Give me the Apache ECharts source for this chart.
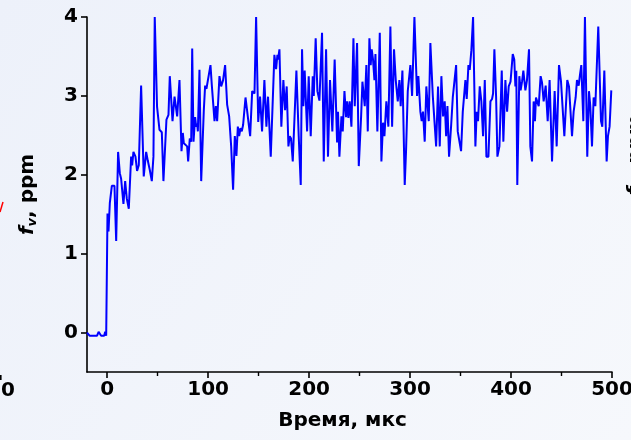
<!DOCTYPE html>
<html>
<head>
<meta charset="utf-8">
<script src="https://cdn.jsdelivr.net/npm/echarts@6/dist/echarts.min.js"></script>
<style>
  html, body { margin: 0; padding: 0; }
  #chart { width: 631px; height: 440px; }
</style>
</head>
<body>
<div id="chart"></div>
<script>
// Soot volume fraction f_v (ppm) versus time (µs)
const timeUs = [
  -20, -17.5, -10, -8.5, -7.5, -6, -3, -2, -1, -0.3,
  0.3, 1.3, 2.6, 4.6, 7.2, 8.9, 10.8, 12.5, 13.8, 16.1, 17.8, 19.4, 21.4, 23.7, 24.7, 26.0, 28.0, 29.6, 31.3, 33.6,
  36.2, 38.6, 40.2, 42.2, 44.2, 45.8, 47.1, 49.4, 51.8, 54.1, 55.7, 58.7, 60.7, 62.0, 64.7, 66.7, 68.0, 69.3, 71.6, 73.6,
  74.9, 75.9, 77.6, 79.2, 80.2, 81.8, 83.2, 84.2, 85.5, 87.1, 88.1, 89.1, 89.8, 91.4, 93.1, 95.7, 97.0, 98.3, 99.7, 100.7,
  102.3, 103.6, 104.9, 106.3, 107.6, 108.9, 111.2, 112.9, 114.8, 116.8, 118.8, 120.8, 122.8, 124.7, 126.4, 128.0, 129.4, 130.7, 132.0, 133.3,
  134.6, 137.0, 138.9, 141.6, 143.6, 145.2, 145.9, 147.5, 149.6, 151.4, 153.4, 155.7, 157.7, 159.3, 162.0, 165.6, 167.3, 168.6, 169.2, 170.6,
  172.5, 174.5, 176.2, 177.8, 179.5, 180.8, 182.1, 183.8, 187.4, 189.7, 191.7, 193.0, 194.3, 195.6, 198.0, 199.6, 201.6, 203.6, 204.6, 206.5,
  208.2, 210.2, 212.8, 214.5, 216.8, 218.7, 220.7, 223.0, 225.3, 227.7, 228.6, 230.0, 232.0, 233.3, 235.0, 236.6, 237.6, 238.9, 240.2, 241.9,
  243.9, 245.2, 247.5, 249.2, 251.5, 252.8, 254.1, 255.1, 256.7, 258.1, 259.7, 261.0, 262.0, 263.3, 264.7, 265.7, 267.6, 270.0, 271.6, 273.2,
  274.6, 276.5, 278.5, 280.5, 282.2, 284.1, 285.8, 287.8, 289.4, 290.7, 292.4, 294.7, 296.0, 297.7, 300.3, 302.0, 304.3, 305.9, 306.9, 308.2,
  310.2, 311.5, 312.8, 314.5, 316.1, 318.5, 320.1, 322.5, 324.1, 325.8, 327.7, 329.4, 331.0, 332.7, 334.3, 335.7, 337.0, 338.6, 340.6, 342.3,
  343.6, 345.6, 347.2, 348.9, 350.5, 352.2, 354.8, 356.1, 357.8, 359.1, 360.7, 362.4, 364.7, 366.0, 367.3, 369.0, 370.6, 372.3, 374.0, 375.6,
  377.6, 379.6, 381.2, 382.2, 383.5, 385.2, 386.5, 388.5, 390.8, 392.4, 394.4, 396.1, 397.7, 399.5, 401.7, 403.2, 404.3, 405.2, 406.2, 408.2,
  409.5, 410.9, 412.2, 414.2, 415.8, 417.8, 419.1, 420.8, 422.4, 423.7, 424.7, 426.4, 427.4, 429.3, 430.7, 432.3, 434.3, 436.3, 438.2, 440.6,
  443.2, 445.2, 447.5, 449.5, 452.8, 454.1, 455.7, 457.4, 458.7, 460.4, 462.0, 464.0, 465.3, 467.0, 468.3, 469.6, 471.6, 473.2, 475.5, 477.2,
  478.5, 480.2, 481.8, 483.5, 484.4, 486.4, 489.1, 490.4, 492.4, 494.7, 496.0, 497.6, 499.3
];

const fvPpm = [
  0.00, -0.04, -0.04, 0.01, 0.01, -0.04, -0.04, 0.01, -0.04, -0.04,
  1.51, 1.28, 1.64, 1.86, 1.86, 1.16, 2.29, 2.02, 1.95, 1.63, 1.92, 1.70, 1.57, 2.23, 2.12, 2.29, 2.23, 2.05, 2.12, 3.13,
  1.98, 2.29, 2.18, 2.06, 1.92, 2.23, 4.00, 2.86, 2.57, 2.54, 1.92, 2.70, 2.76, 3.25, 2.68, 2.99, 2.98, 2.74, 3.20, 2.30,
  2.53, 2.40, 2.41, 2.36, 2.17, 2.46, 2.42, 3.60, 2.42, 2.73, 2.61, 2.65, 2.55, 3.33, 1.92, 2.82, 3.13, 3.09, 3.11, 3.27,
  3.39, 3.14, 3.12, 2.68, 2.87, 2.68, 3.25, 3.12, 3.20, 3.39, 2.89, 2.74, 2.36, 1.81, 2.49, 2.24, 2.61, 2.49, 2.59, 2.55,
  2.63, 2.98, 2.98, 2.49, 3.06, 3.08, 3.03, 4.00, 2.67, 2.99, 2.55, 3.20, 2.61, 2.99, 2.23, 3.52, 3.34, 3.52, 3.46, 3.59,
  2.61, 3.20, 2.82, 3.12, 2.36, 2.49, 2.46, 2.17, 3.32, 2.49, 1.87, 3.59, 2.87, 3.32, 2.55, 3.25, 2.49, 3.25, 3.00, 3.73,
  3.06, 2.94, 3.80, 2.17, 3.59, 2.23, 3.20, 2.55, 3.46, 2.41, 2.80, 2.23, 2.74, 2.55, 3.06, 2.73, 2.93, 2.72, 2.93, 2.61,
  3.73, 2.87, 3.67, 2.11, 2.74, 3.18, 3.20, 2.87, 3.39, 2.55, 3.73, 3.39, 3.59, 3.46, 3.20, 3.53, 2.55, 3.80, 2.17, 2.66,
  2.49, 2.93, 2.61, 3.88, 2.61, 3.59, 3.20, 2.93, 3.20, 2.87, 3.32, 1.87, 2.30, 3.06, 3.39, 3.00, 4.00, 4.00, 3.00, 3.25,
  2.80, 2.68, 2.80, 2.42, 3.12, 2.68, 3.67, 3.00, 2.98, 2.36, 3.12, 2.36, 3.25, 2.74, 2.93, 2.49, 2.87, 2.23, 2.61, 2.98,
  2.98, 3.39, 2.55, 2.53, 2.30, 2.80, 3.20, 2.96, 3.39, 3.33, 3.58, 4.00, 2.36, 2.80, 2.68, 3.12, 2.93, 2.49, 3.20, 2.23,
  2.23, 2.93, 2.96, 3.03, 3.59, 2.99, 2.23, 2.36, 3.32, 2.42, 3.20, 2.80, 3.12, 3.18, 3.53, 3.46, 3.12, 3.32, 1.87, 3.25,
  3.07, 3.18, 3.32, 3.07, 3.20, 3.59, 2.36, 2.17, 2.93, 2.68, 2.98, 2.98, 2.87, 3.25, 3.17, 2.93, 3.13, 2.68, 3.20, 2.17,
  3.06, 2.36, 3.39, 3.18, 2.49, 2.49, 3.20, 3.12, 3.12, 2.49, 2.80, 2.98, 3.20, 3.13, 3.27, 3.39, 2.68, 4.00, 2.23, 3.06,
  2.87, 2.36, 2.98, 2.87, 2.87, 3.88, 2.68, 2.61, 3.32, 2.17, 2.49, 2.61, 3.07
];

// Axis ticks
const xTicks = [0, 100, 200, 300, 400, 500];
const xMinorTicks = [50, 150, 250, 350, 450];
const yTicks = [0, 1, 2, 3, 4];

const xName = 'Время, мкс';

const FONT = 'DejaVu Sans';
const seriesData = timeUs.map((t, i) => [t, fvPpm[i]]);

const chart = echarts.init(document.getElementById('chart'), null, { renderer: 'canvas' });

const labelStyle = { color: '#000', fontFamily: FONT, fontWeight: 'bold', fontSize: 20 };
const axisLine = { show: true, onZero: false, lineStyle: { color: '#000', width: 1.6 } };

chart.setOption({
  animation: false,
  backgroundColor: new echarts.graphic.LinearGradient(0, 0, 1, 1, [
    { offset: 0, color: '#edf1fa' },
    { offset: 1, color: '#f6f8fc' }
  ]),
  grid: { left: 87, right: 19, top: 17, bottom: 68, outerBoundsMode: 'none' },
  xAxis: [
    {
      type: 'value', min: -20, max: 500,
      axisLine: axisLine,
      splitLine: { show: false },
      axisTick: { show: true, inside: false, length: 6, customValues: xTicks, lineStyle: { color: '#000', width: 1.6 } },
      axisLabel: { customValues: xTicks, margin: 8, ...labelStyle },
      name: xName, nameLocation: 'middle', nameGap: 39,
      nameTextStyle: { ...labelStyle, fontSize: 20, padding: [0, 14, 0, 0] }
    },
    {
      type: 'value', min: -20, max: 500, position: 'bottom',
      axisLine: { show: false, onZero: false },
      splitLine: { show: false },
      axisTick: { show: true, inside: false, length: 4, customValues: xMinorTicks, lineStyle: { color: '#000', width: 1.4 } },
      axisLabel: { show: false }
    }
  ],
  yAxis: {
    type: 'value', min: -0.5, max: 4,
    axisLine: axisLine,
    splitLine: { show: false },
    axisTick: { show: true, inside: false, length: 6, customValues: yTicks, lineStyle: { color: '#000', width: 1.6 } },
    axisLabel: { customValues: yTicks, margin: 9, ...labelStyle },
    name: '{f|f}{v|v}{n|, ppm}',
    nameLocation: 'middle', nameRotate: 90, nameGap: 48,
    nameTextStyle: {
      rich: {
        f: { fontFamily: FONT, fontWeight: 'bold', fontStyle: 'italic', fontSize: 20, color: '#000' },
        v: { fontFamily: FONT, fontWeight: 'bold', fontStyle: 'italic', fontSize: 13, color: '#000', padding: [10, 0, 0, 0] },
        n: { fontFamily: FONT, fontWeight: 'bold', fontSize: 20, color: '#000' }
      }
    }
  },
  series: [{
    type: 'line',
    xAxisIndex: 0,
    data: seriesData,
    showSymbol: false,
    clip: true,
    lineStyle: { color: '#0000ff', width: 2 },
    itemStyle: { color: '#0000ff' }
  }],
  graphic: [
    // fragments of the neighbouring panels at the edges
    { type: 'text', left: 1, top: 381, style: { text: '0', fill: '#000', font: 'bold 20px "DejaVu Sans"' } },
    { type: 'rect', shape: { x: 0, y: 375, width: 1.6, height: 5 }, style: { fill: '#000' } },
    { type: 'line', shape: { x1: 0, y1: 212, x2: 3, y2: 202 }, style: { stroke: '#ff0000', lineWidth: 1.5 } },
    {
      type: 'text', x: 624, y: 155, rotation: Math.PI / 2,
      style: {
        text: '{f|f}{v|v}{n|, ppm}', align: 'center', verticalAlign: 'top',
        rich: {
          f: { fontFamily: FONT, fontWeight: 'bold', fontStyle: 'italic', fontSize: 20, fill: '#000' },
          v: { fontFamily: FONT, fontWeight: 'bold', fontStyle: 'italic', fontSize: 13, fill: '#000', padding: [10, 0, 0, 0] },
          n: { fontFamily: FONT, fontWeight: 'bold', fontSize: 20, fill: '#000' }
        }
      }
    }
  ]
});
</script>
</body>
</html>
